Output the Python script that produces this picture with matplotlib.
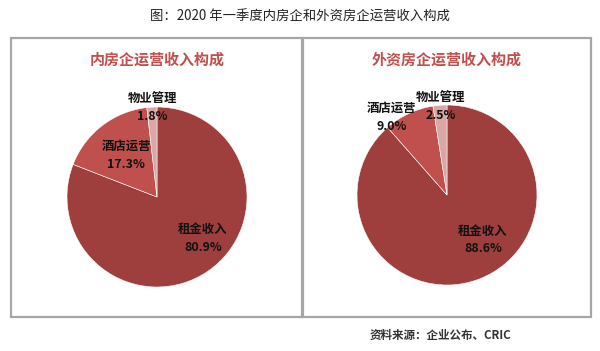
import matplotlib
matplotlib.use("Agg")
import matplotlib.pyplot as plt
from matplotlib.patches import Rectangle

plt.rcParams['font.family'] = ['Noto Sans CJK SC', 'DejaVu Sans']

title = "图：2020 年一季度内房企和外资房企运营收入构成"
source = "资料来源：企业公布、CRIC"
categories = ["租金收入", "酒店运营", "物业管理"]
panel_titles = ["内房企运营收入构成", "外资房企运营收入构成"]
domestic = [80.9, 17.3, 1.8]
foreign = [88.6, 9.0, 2.5]
colors = ["#9E3F3D", "#C0504D", "#D9A7A6"]

W, H = 600, 351
fig = plt.figure(figsize=(W / 100, H / 100), dpi=100)
fig.patch.set_facecolor("white")

def px(x, y):
    return x / W, 1 - y / H

# boxes
for (x0, x1) in [(11, 302), (303, 591)]:
    y0, y1 = 38, 317
    fig.add_artist(Rectangle((x0 / W, 1 - y1 / H), (x1 - x0) / W, (y1 - y0) / H,
                             transform=fig.transFigure, fill=False,
                             edgecolor="#A6A6A6", linewidth=1.6))

fig.text(0.5, 1 - 17 / H, title, ha="center", va="center", fontsize=9.6, color="#222222",
         fontweight="medium")
fig.text(370 / W, 1 - 335 / H, source, ha="left", va="center", fontsize=8.3,
         color="#333333", fontweight="bold")

panels = [
    dict(vals=domestic, cx=157, cy=197, r=90, tx=157, ty=60,
         lpos=[(0.51, -0.46), (-0.34, 0.46), (-0.05, 0.99)]),
    dict(vals=foreign, cx=447, cy=195, r=90, tx=447, ty=60,
         lpos=[(0.40, -0.50), (-0.62, 0.86), (-0.07, 0.98)]),
]

for p, ptitle in zip(panels, panel_titles):
    cx, cy, r = p["cx"], p["cy"], p["r"]
    ax = fig.add_axes([(cx - r) / W, 1 - (cy + r) / H, 2 * r / W, 2 * r / H])
    ax.pie(p["vals"], colors=colors, startangle=90, counterclock=False, radius=1,
           wedgeprops=dict(edgecolor="white", linewidth=0.4))
    ax.set_xlim(-1, 1)
    ax.set_ylim(-1, 1)
    ax.set_aspect("auto")
    ax.axis("off")
    for cat, v, (lx, ly) in zip(categories, p["vals"], p["lpos"]):
        ax.text(lx, ly, f"{cat}\n{v:.1f}%", ha="center", va="center", fontsize=8.9,
                fontweight="bold", color="#111111", linespacing=1.5)
    fx, fy = px(p["tx"], p["ty"])
    fig.text(fx, fy, ptitle, ha="center", va="center", fontsize=10.8,
             fontweight="bold", color="#C0504D")

fig.savefig("out.png", dpi=100, facecolor="white")
